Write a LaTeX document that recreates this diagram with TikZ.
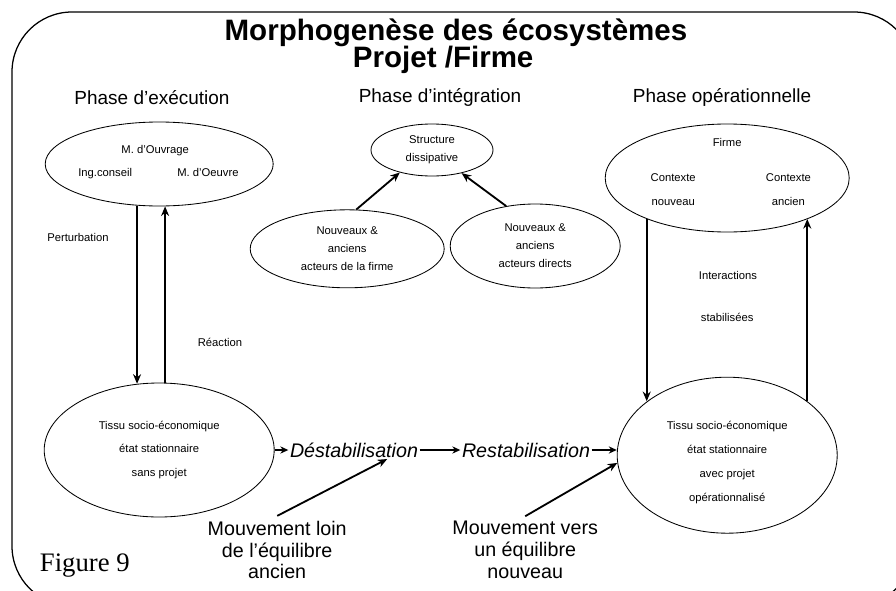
\documentclass[tikz,border=0pt]{standalone}
\usepackage{fontspec}
\setmainfont{Liberation Sans}
\newfontfamily\figfont{Liberation Serif}
\usetikzlibrary{arrows.meta, shapes.geometric}

\begin{document}
\begin{tikzpicture}[
			bubble/.style={ellipse, draw, line width=0.6pt, inner sep=0pt, align=center, font=\fontsize{8}{12.8}\selectfont},
			small/.style={font=\fontsize{8}{17}\selectfont, align=center},
			phase/.style={font=\fontsize{13.5}{15}\selectfont},
			big/.style={font=\fontsize{14}{15.6}\selectfont, align=center},
			flowtxt/.style={font=\fontsize{14}{16}\selectfont\itshape, inner sep=1pt},
			arrow/.style={-{Stealth[length=2.4mm, width=2mm]}, line width=1.3pt},
			flow/.style={-{Stealth[length=2mm, width=1.8mm]}, line width=1pt}
		]
		\useasboundingbox (0,0) rectangle (22.4,-14.75);
		
		% Outer frame (cut by the page)
		\begin{scope}
			\clip (0,0) rectangle (22.4,-14.75);
			\draw[line width=0.9pt, rounded corners=1.5cm] (0.3,-0.3) rectangle (22.85,-15.15);
		\end{scope}
		
		% Title
		\node[font=\fontsize{21}{24}\selectfont\bfseries] (title) at (11.4,-0.83) {Morphogenèse des écosystèmes};
		\node[font=\fontsize{21}{24}\selectfont\bfseries] (subtitle) at (11.08,-1.5) {Projet /Firme};
		
		% Phase titles
		\node[phase] (ph_exec) at (3.8,-2.43) {Phase d’exécution};
		\node[phase] (ph_integ) at (11.0,-2.43) {Phase d’intégration};
		\node[phase] (ph_oper) at (18.05,-2.43) {Phase opérationnelle};
		
		% Execution phase
		\node[bubble, minimum width=5.7cm, minimum height=2.1cm] (ouvrage) at (3.98,-4.1) {};
		\node[small, anchor=base] (m_ouvrage) at ([xshift=-0.1cm, yshift=0.27cm]ouvrage.center) {M. d’Ouvrage};
		\node[small, anchor=base] (ing) at ([xshift=-1.35cm, yshift=-0.3cm]ouvrage.center) {Ing.conseil};
		\node[small, anchor=base] (m_oeuvre) at ([xshift=1.22cm, yshift=-0.3cm]ouvrage.center) {M. d’Oeuvre};
		\node[bubble, font=\fontsize{8}{17}\selectfont, minimum width=5.75cm, minimum height=3.35cm] (tissuA) at (3.98,-11.25) {Tissu socio-économique\\état stationnaire\\sans projet};
		
		% Integration phase
		\node[bubble, minimum width=3.05cm, minimum height=1.3cm] (dissip) at (10.8,-3.75) {Structure\\dissipative};
		\node[bubble, minimum width=4.85cm, minimum height=1.95cm] (act_firme) at (8.68,-6.22) {Nouveaux \&\\anciens\\acteurs de la firme};
		\node[bubble, minimum width=4.25cm, minimum height=2.1cm] (act_directs) at (13.38,-6.15) {Nouveaux \&\\anciens\\acteurs directs};
		
		% Operational phase
		\node[bubble, minimum width=6.1cm, minimum height=2.7cm] (firme) at (18.18,-4.45) {};
		\node[small] (f_name) at ([yshift=0.9cm]firme.center) {Firme};
		\node[small] (ctx_new) at ([xshift=-1.35cm, yshift=-0.3cm]firme.center) {Contexte\\nouveau};
		\node[small] (ctx_old) at ([xshift=1.53cm, yshift=-0.3cm]firme.center) {Contexte\\ancien};
		\node[bubble, minimum width=5.5cm, minimum height=3.9cm] (tissuB) at (18.18,-11.38) {};
		\node[small] (tissuB_txt) at ([yshift=-0.18cm]tissuB.center) {Tissu socio-économique\\état stationnaire\\avec projet\\opérationnalisé};
		
		% Side labels
		\node[small] (pert) at (1.95,-5.93) {Perturbation};
		\node[small] (react) at (5.5,-8.55) {Réaction};
		\node[small] (inter) at (18.2,-6.88) {Interactions};
		\node[small] (stab) at (18.18,-7.93) {stabilisées};
		
		% Bottom row
		\node[flowtxt] (destab) at (8.85,-11.25) {Déstabilisation};
		\node[flowtxt] (restab) at (13.15,-11.25) {Restabilisation};
		\node[big] (mvt_loin) at (6.93,-13.75) {Mouvement loin\\de l’équilibre\\ancien};
		\node[big] (mvt_vers) at (13.13,-13.75) {Mouvement vers\\un équilibre\\nouveau};
		\node[font=\figfont\fontsize{19}{21}\selectfont] (fig) at (2.12,-14.15) {Figure 9};
		
		% Connectors
		\draw[arrow] (ouvrage.242) -- (ouvrage.242 |- tissuA.108);
		\draw[arrow] (tissuA.85) -- (tissuA.85 |- ouvrage.278);
		\draw[arrow] (act_firme.77) -- (dissip.215);
		\draw[arrow] (act_directs.126) -- (dissip.322);
		\draw[arrow] (firme.207) -- (firme.207 |- tissuB.146);
		\draw[arrow] (tissuB.34) -- (tissuB.34 |- firme.333);
		\draw[flow] (tissuA.east) -- (destab.west);
		\draw[flow] (destab.east) -- (restab.west);
		\draw[flow] (restab.east) -- (restab.east -| tissuB.west);
		\draw[arrow] (mvt_loin.north) -- ([xshift=0.83cm]destab.south);
		\draw[arrow] (mvt_vers.north) -- (tissuB.184);
		\end{tikzpicture}
\end{document}
